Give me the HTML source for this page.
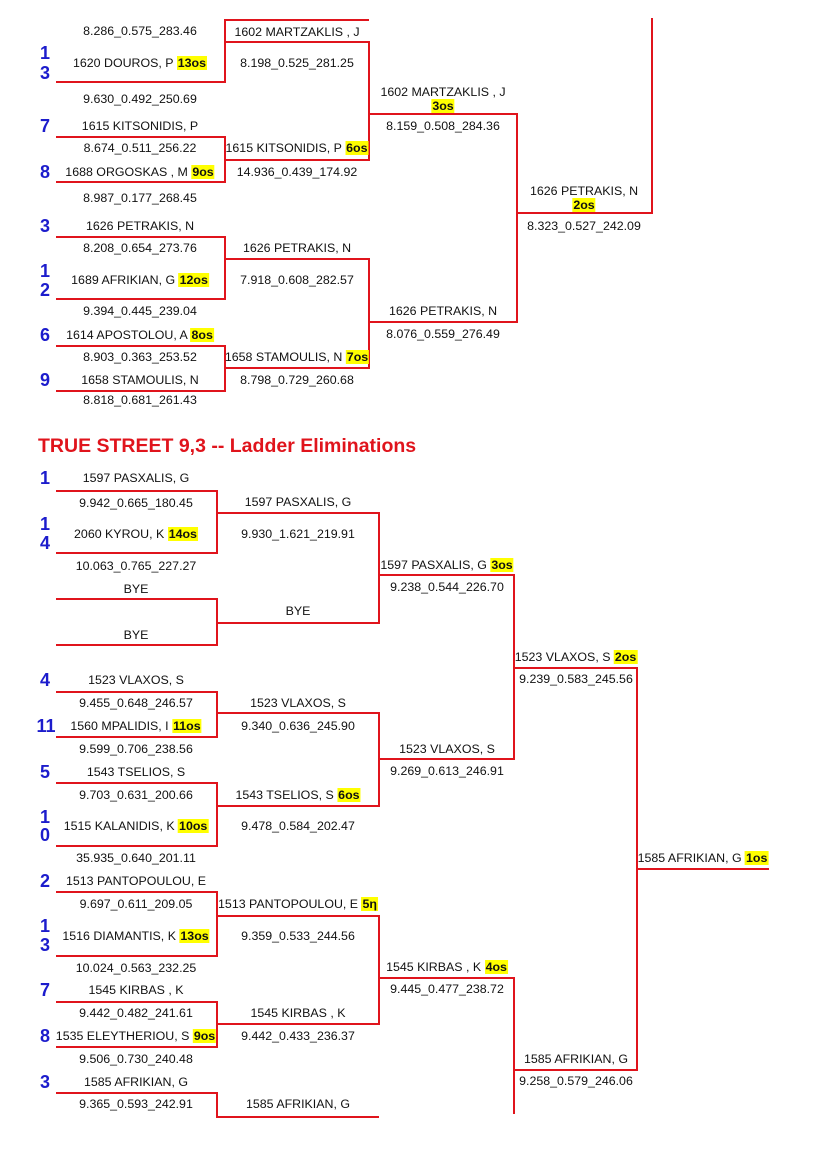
<!DOCTYPE html>
<html><head><meta charset="utf-8">
<style>
html,body{margin:0;padding:0;background:#fff;}
body{width:827px;height:1170px;position:relative;overflow:hidden;font-family:"Liberation Sans",Arial,sans-serif;}
.t{position:absolute;transform:translateX(-50%);white-space:nowrap;font-size:12.4px;line-height:14px;color:#111;}
.h{background:#ffff00;font-weight:bold;padding:0 1px;}
.s{position:absolute;color:#1c1ccc;font-weight:bold;font-size:18px;line-height:18px;transform:translateX(-50%);}
svg{position:absolute;left:0;top:0;}
.title{position:absolute;left:38px;top:435px;color:#e0141c;font-weight:bold;font-size:19.5px;white-space:nowrap;}
</style></head><body>
<svg width="827" height="1170" viewBox="0 0 827 1170">
<g fill="none" stroke="#e0141c" stroke-width="2">
<polyline points="369,20 225,20 225,82 56,82"/>
<polyline points="225,42 369,42 369,160 225,160"/>
<polyline points="56,137 225,137 225,182 56,182"/>
<polyline points="369,114 517,114 517,322 369,322"/>
<polyline points="517,213 652,213 652,18"/>
<polyline points="56,237 225,237 225,299 56,299"/>
<polyline points="225,259 369,259 369,368 225,368"/>
<polyline points="56,346 225,346 225,391 56,391"/>
<polyline points="56,491 217,491 217,553 56,553"/>
<polyline points="56,599 217,599 217,645 56,645"/>
<polyline points="217,513 379,513 379,623 217,623"/>
<polyline points="379,575 514,575 514,759 379,759"/>
<polyline points="56,692 217,692 217,737 56,737"/>
<polyline points="56,783 217,783 217,846 56,846"/>
<polyline points="217,713 379,713 379,806 217,806"/>
<polyline points="514,668 637,668 637,1070 514,1070"/>
<polyline points="637,869 769,869"/>
<polyline points="56,892 217,892 217,956 56,956"/>
<polyline points="56,1002 217,1002 217,1047 56,1047"/>
<polyline points="217,916 379,916 379,1024 217,1024"/>
<polyline points="379,978 514,978 514,1114"/>
<polyline points="56,1093 217,1093 217,1117 379,1117"/>
</g>
</svg>

<div class="s" style="left:45px;top:44px">1</div>
<div class="s" style="left:45px;top:64px">3</div>
<div class="s" style="left:45px;top:117px">7</div>
<div class="s" style="left:45px;top:163px">8</div>
<div class="s" style="left:45px;top:217px">3</div>
<div class="s" style="left:45px;top:262px">1</div>
<div class="s" style="left:45px;top:281px">2</div>
<div class="s" style="left:45px;top:326px">6</div>
<div class="s" style="left:45px;top:371px">9</div>

<div class="t" style="left:140px;top:24px">8.286_0.575_283.46</div>
<div class="t" style="left:140px;top:56px">1620 DOUROS, P <span class="h">13os</span></div>
<div class="t" style="left:140px;top:92px">9.630_0.492_250.69</div>
<div class="t" style="left:140px;top:119px">1615 KITSONIDIS, P</div>
<div class="t" style="left:140px;top:141px">8.674_0.511_256.22</div>
<div class="t" style="left:140px;top:165px">1688 ORGOSKAS , M <span class="h">9os</span></div>
<div class="t" style="left:140px;top:191px">8.987_0.177_268.45</div>
<div class="t" style="left:140px;top:219px">1626 PETRAKIS, N</div>
<div class="t" style="left:140px;top:241px">8.208_0.654_273.76</div>
<div class="t" style="left:140px;top:273px">1689 AFRIKIAN, G <span class="h">12os</span></div>
<div class="t" style="left:140px;top:304px">9.394_0.445_239.04</div>
<div class="t" style="left:140px;top:328px">1614 APOSTOLOU, A <span class="h">8os</span></div>
<div class="t" style="left:140px;top:350px">8.903_0.363_253.52</div>
<div class="t" style="left:140px;top:373px">1658 STAMOULIS, N</div>
<div class="t" style="left:140px;top:393px">8.818_0.681_261.43</div>
<div class="t" style="left:297px;top:25px">1602 MARTZAKLIS , J</div>
<div class="t" style="left:297px;top:56px">8.198_0.525_281.25</div>
<div class="t" style="left:297px;top:141px">1615 KITSONIDIS, P <span class="h">6os</span></div>
<div class="t" style="left:297px;top:165px">14.936_0.439_174.92</div>
<div class="t" style="left:297px;top:241px">1626 PETRAKIS, N</div>
<div class="t" style="left:297px;top:273px">7.918_0.608_282.57</div>
<div class="t" style="left:297px;top:350px">1658 STAMOULIS, N <span class="h">7os</span></div>
<div class="t" style="left:297px;top:373px">8.798_0.729_260.68</div>
<div class="t" style="left:443px;top:85px">1602 MARTZAKLIS , J</div>
<div class="t" style="left:443px;top:99px"><span class="h">3os</span></div>
<div class="t" style="left:443px;top:119px">8.159_0.508_284.36</div>
<div class="t" style="left:443px;top:304px">1626 PETRAKIS, N</div>
<div class="t" style="left:443px;top:327px">8.076_0.559_276.49</div>
<div class="t" style="left:584px;top:184px">1626 PETRAKIS, N</div>
<div class="t" style="left:584px;top:198px"><span class="h">2os</span></div>
<div class="t" style="left:584px;top:219px">8.323_0.527_242.09</div>

<div class="title">TRUE STREET 9,3 -- Ladder Eliminations</div>

<div class="s" style="left:45px;top:469px">1</div>
<div class="s" style="left:45px;top:515px">1</div>
<div class="s" style="left:45px;top:534px">4</div>
<div class="s" style="left:45px;top:671px">4</div>
<div class="s" style="left:46px;top:717px">11</div>
<div class="s" style="left:45px;top:763px">5</div>
<div class="s" style="left:45px;top:808px">1</div>
<div class="s" style="left:45px;top:826px">0</div>
<div class="s" style="left:45px;top:872px">2</div>
<div class="s" style="left:45px;top:917px">1</div>
<div class="s" style="left:45px;top:936px">3</div>
<div class="s" style="left:45px;top:981px">7</div>
<div class="s" style="left:45px;top:1027px">8</div>
<div class="s" style="left:45px;top:1073px">3</div>

<div class="t" style="left:136px;top:471px">1597 PASXALIS, G</div>
<div class="t" style="left:136px;top:496px">9.942_0.665_180.45</div>
<div class="t" style="left:136px;top:527px">2060 KYROU, K <span class="h">14os</span></div>
<div class="t" style="left:136px;top:559px">10.063_0.765_227.27</div>
<div class="t" style="left:136px;top:582px">BYE</div>
<div class="t" style="left:136px;top:628px">BYE</div>
<div class="t" style="left:136px;top:673px">1523 VLAXOS, S</div>
<div class="t" style="left:136px;top:696px">9.455_0.648_246.57</div>
<div class="t" style="left:136px;top:719px">1560 MPALIDIS, I <span class="h">11os</span></div>
<div class="t" style="left:136px;top:742px">9.599_0.706_238.56</div>
<div class="t" style="left:136px;top:765px">1543 TSELIOS, S</div>
<div class="t" style="left:136px;top:788px">9.703_0.631_200.66</div>
<div class="t" style="left:136px;top:819px">1515 KALANIDIS, K <span class="h">10os</span></div>
<div class="t" style="left:136px;top:851px">35.935_0.640_201.11</div>
<div class="t" style="left:136px;top:874px">1513 PANTOPOULOU, E</div>
<div class="t" style="left:136px;top:897px">9.697_0.611_209.05</div>
<div class="t" style="left:136px;top:929px">1516 DIAMANTIS, K <span class="h">13os</span></div>
<div class="t" style="left:136px;top:961px">10.024_0.563_232.25</div>
<div class="t" style="left:136px;top:983px">1545 KIRBAS , K</div>
<div class="t" style="left:136px;top:1006px">9.442_0.482_241.61</div>
<div class="t" style="left:136px;top:1029px">1535 ELEYTHERIOU, S <span class="h">9os</span></div>
<div class="t" style="left:136px;top:1052px">9.506_0.730_240.48</div>
<div class="t" style="left:136px;top:1075px">1585 AFRIKIAN, G</div>
<div class="t" style="left:136px;top:1097px">9.365_0.593_242.91</div>
<div class="t" style="left:298px;top:495px">1597 PASXALIS, G</div>
<div class="t" style="left:298px;top:527px">9.930_1.621_219.91</div>
<div class="t" style="left:298px;top:604px">BYE</div>
<div class="t" style="left:298px;top:696px">1523 VLAXOS, S</div>
<div class="t" style="left:298px;top:719px">9.340_0.636_245.90</div>
<div class="t" style="left:298px;top:788px">1543 TSELIOS, S <span class="h">6os</span></div>
<div class="t" style="left:298px;top:819px">9.478_0.584_202.47</div>
<div class="t" style="left:298px;top:897px">1513 PANTOPOULOU, E <span class="h">5η</span></div>
<div class="t" style="left:298px;top:929px">9.359_0.533_244.56</div>
<div class="t" style="left:298px;top:1006px">1545 KIRBAS , K</div>
<div class="t" style="left:298px;top:1029px">9.442_0.433_236.37</div>
<div class="t" style="left:298px;top:1097px">1585 AFRIKIAN, G</div>
<div class="t" style="left:447px;top:558px">1597 PASXALIS, G <span class="h">3os</span></div>
<div class="t" style="left:447px;top:580px">9.238_0.544_226.70</div>
<div class="t" style="left:447px;top:742px">1523 VLAXOS, S</div>
<div class="t" style="left:447px;top:764px">9.269_0.613_246.91</div>
<div class="t" style="left:447px;top:960px">1545 KIRBAS , K <span class="h">4os</span></div>
<div class="t" style="left:447px;top:982px">9.445_0.477_238.72</div>
<div class="t" style="left:576px;top:650px">1523 VLAXOS, S <span class="h">2os</span></div>
<div class="t" style="left:576px;top:672px">9.239_0.583_245.56</div>
<div class="t" style="left:576px;top:1052px">1585 AFRIKIAN, G</div>
<div class="t" style="left:576px;top:1074px">9.258_0.579_246.06</div>
<div class="t" style="left:703px;top:851px">1585 AFRIKIAN, G <span class="h">1os</span></div>
</body></html>
